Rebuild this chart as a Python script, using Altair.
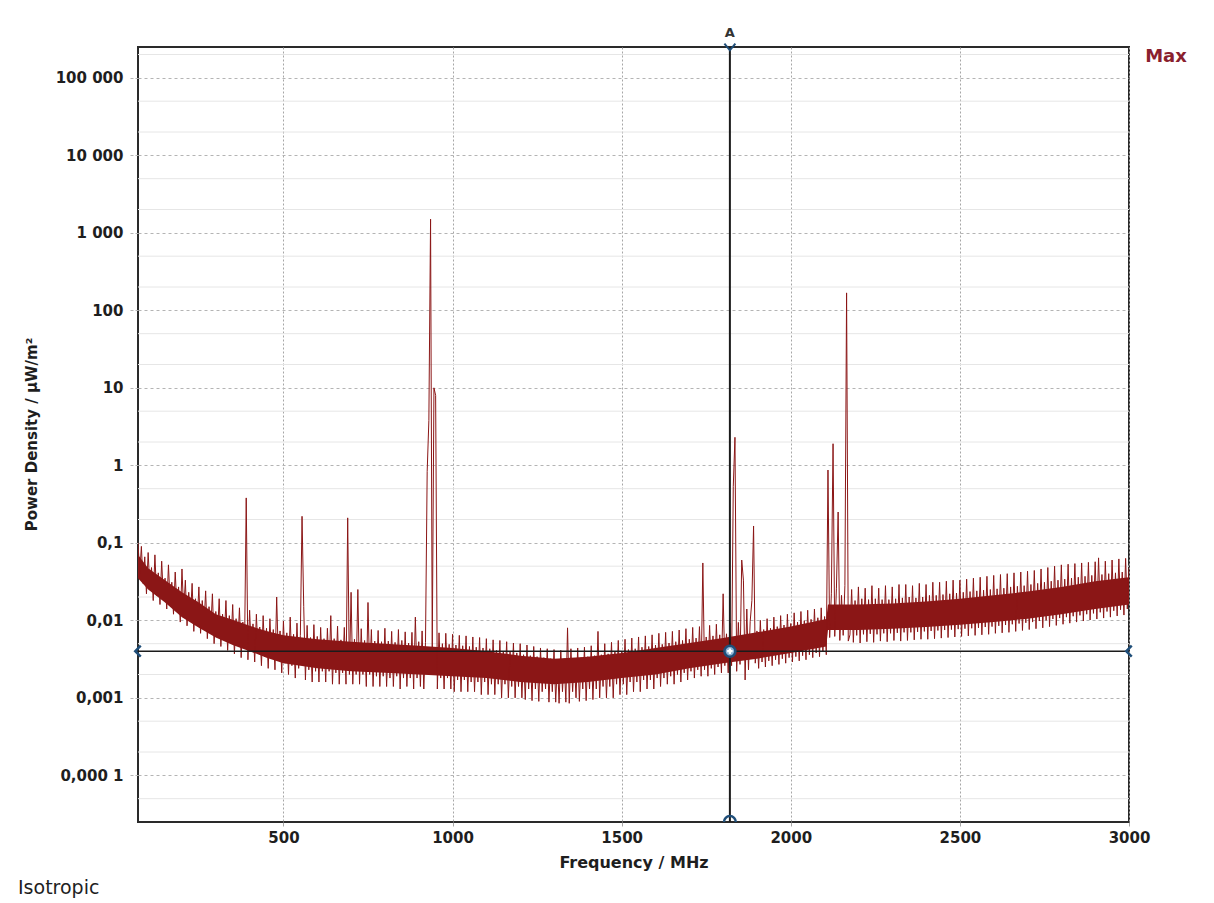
import altair as alt
import pandas as pd

# ---------------- data ----------------
FREQ_START_MHZ = 70
FREQ_STEP_MHZ = 5

# Max-hold power density, µW/m², one value per 5 MHz sweep step (70 ... 3000 MHz)
power_density = [
    0.1, 0.04, 0.09, 0.03, 0.066, 0.022, 0.075, 0.027, 0.048, 0.018, 0.07,            # 70-120
    0.021, 0.041, 0.016, 0.058, 0.02, 0.035, 0.014, 0.052, 0.017, 0.031,              # 125-170
    0.012, 0.042, 0.015, 0.027, 0.0095, 0.046, 0.013, 0.033, 0.0085, 0.023,           # 175-220
    0.011, 0.03, 0.0072, 0.019, 0.0095, 0.027, 0.0068, 0.018, 0.0085, 0.024,          # 225-270
    0.0058, 0.015, 0.0075, 0.022, 0.005, 0.013, 0.0064, 0.019, 0.0046, 0.012,         # 275-320
    0.0058, 0.018, 0.0041, 0.0115, 0.0052, 0.016, 0.0037, 0.0105, 0.0047, 0.0145,     # 325-370
    0.0033, 0.0095, 0.0044, 0.38, 0.0031, 0.0135, 0.004, 0.009, 0.0029, 0.012,        # 375-420
    0.0037, 0.0082, 0.0026, 0.0115, 0.0034, 0.0079, 0.0024, 0.0105, 0.0032, 0.0076,   # 425-470
    0.0023, 0.02, 0.0031, 0.0073, 0.0021, 0.0098, 0.0028, 0.0069, 0.002, 0.011,       # 475-520
    0.0026, 0.0066, 0.0018, 0.0092, 0.0024, 0.0064, 0.22, 0.015, 0.0017, 0.0086,      # 525-570
    0.0023, 0.006, 0.0016, 0.0088, 0.0022, 0.0062, 0.0016, 0.0081, 0.0022, 0.0058,    # 575-620
    0.0016, 0.0079, 0.0022, 0.0115, 0.0015, 0.0058, 0.0021, 0.0084, 0.0015, 0.0056,   # 625-670
    0.0021, 0.0081, 0.0015, 0.21, 0.002, 0.023, 0.0015, 0.0057, 0.002, 0.025,         # 675-720
    0.0015, 0.0078, 0.002, 0.0055, 0.0014, 0.017, 0.002, 0.0076, 0.0014, 0.0054,      # 725-770
    0.0019, 0.0074, 0.0014, 0.0053, 0.0019, 0.0079, 0.0014, 0.0054, 0.0018, 0.0072,   # 775-820
    0.0014, 0.0052, 0.0019, 0.0076, 0.0013, 0.0055, 0.0018, 0.0071, 0.0014, 0.0051,   # 825-870
    0.0018, 0.007, 0.0013, 0.011, 0.0018, 0.0053, 0.0014, 0.0073, 0.0013, 0.0052,     # 875-920
    0.83, 3.8, 1500, 0.0045, 10, 8, 0.0013, 0.0069, 0.0018, 0.005,                    # 925-970
    0.0013, 0.0068, 0.0018, 0.0049, 0.0013, 0.0066, 0.0012, 0.0048, 0.0017, 0.0064,   # 975-1020
    0.0012, 0.0047, 0.0017, 0.0063, 0.0012, 0.0046, 0.0016, 0.0061, 0.0012, 0.0045,   # 1025-1070
    0.0016, 0.006, 0.0011, 0.0044, 0.0016, 0.0058, 0.0011, 0.0043, 0.0015, 0.0056,    # 1075-1120
    0.0011, 0.0041, 0.0015, 0.0055, 0.001, 0.004, 0.0015, 0.0053, 0.001, 0.0039,      # 1125-1170
    0.0014, 0.0051, 0.001, 0.0038, 0.0014, 0.005, 0.001, 0.0036, 0.00095, 0.0048,     # 1175-1220
    0.0013, 0.0035, 0.00092, 0.0046, 0.0013, 0.0034, 0.0009, 0.0044, 0.0012, 0.0033,  # 1225-1270
    0.0013, 0.0043, 0.00088, 0.0032, 0.0012, 0.0042, 0.00088, 0.0031, 0.00085, 0.0041,  # 1275-1320
    0.0012, 0.0032, 0.00088, 0.008, 0.00085, 0.0043, 0.0012, 0.0032, 0.001, 0.0044,   # 1325-1370
    0.0009, 0.0033, 0.0013, 0.0045, 0.00092, 0.0034, 0.0013, 0.0047, 0.00095, 0.0035,  # 1375-1420
    0.0013, 0.0072, 0.001, 0.0036, 0.0014, 0.005, 0.001, 0.0037, 0.0014, 0.0052,      # 1425-1470
    0.001, 0.0039, 0.0015, 0.0055, 0.0011, 0.004, 0.0015, 0.0057, 0.0011, 0.0042,     # 1475-1520
    0.0016, 0.0059, 0.0012, 0.0043, 0.0016, 0.0061, 0.0012, 0.0045, 0.0017, 0.0063,   # 1525-1570
    0.0013, 0.0046, 0.0017, 0.0065, 0.0013, 0.0048, 0.0018, 0.0068, 0.0014, 0.0049,   # 1575-1620
    0.0018, 0.007, 0.0015, 0.0051, 0.0019, 0.0072, 0.0015, 0.0053, 0.002, 0.0075,     # 1625-1670
    0.0016, 0.0055, 0.0021, 0.0078, 0.0017, 0.0057, 0.0022, 0.0081, 0.0018, 0.0059,   # 1675-1720
    0.0023, 0.0083, 0.0019, 0.055, 0.0023, 0.0061, 0.0019, 0.0086, 0.0024, 0.0063,    # 1725-1770
    0.002, 0.0089, 0.0025, 0.0065, 0.0021, 0.022, 0.0026, 0.0067, 0.0021, 0.0092,     # 1775-1820
    0.0026, 0.53, 2.3, 0.0022, 0.0094, 0.0027, 0.06, 0.033, 0.0017, 0.014,            # 1825-1870
    0.0023, 0.0097, 0.018, 0.165, 0.0028, 0.0073, 0.0024, 0.01, 0.0029, 0.0076,       # 1875-1920
    0.0025, 0.0105, 0.003, 0.0079, 0.0026, 0.011, 0.0031, 0.0083, 0.0027, 0.0115,     # 1925-1970
    0.0032, 0.0087, 0.0028, 0.012, 0.0033, 0.0091, 0.0029, 0.0125, 0.0034, 0.0095,    # 1975-2020
    0.003, 0.013, 0.0035, 0.0099, 0.0031, 0.0135, 0.0036, 0.0103, 0.0033, 0.014,      # 2025-2070
    0.0038, 0.0108, 0.0034, 0.0145, 0.004, 0.0112, 0.0036, 0.87, 0.006, 0.022,        # 2075-2120
    1.9, 0.0062, 0.026, 0.25, 0.0055, 0.021, 0.0064, 0.028, 168, 0.0054,              # 2125-2170
    0.0065, 0.025, 0.0052, 0.018, 0.0064, 0.027, 0.0051, 0.019, 0.0066, 0.026,        # 2175-2220
    0.0053, 0.0185, 0.0067, 0.028, 0.0052, 0.019, 0.0066, 0.026, 0.0054, 0.0185,      # 2225-2270
    0.0068, 0.028, 0.0053, 0.0185, 0.0068, 0.027, 0.0055, 0.019, 0.0069, 0.029,       # 2275-2320
    0.0054, 0.0195, 0.007, 0.029, 0.0055, 0.02, 0.007, 0.028, 0.0056, 0.0195,         # 2325-2370
    0.0071, 0.03, 0.0057, 0.02, 0.0072, 0.029, 0.0057, 0.021, 0.0073, 0.031,          # 2375-2420
    0.0058, 0.021, 0.0074, 0.031, 0.0059, 0.0215, 0.0075, 0.032, 0.006, 0.022,        # 2425-2470
    0.0076, 0.033, 0.0061, 0.0225, 0.0077, 0.033, 0.0062, 0.023, 0.0078, 0.034,       # 2475-2520
    0.0063, 0.0235, 0.0079, 0.035, 0.0064, 0.024, 0.008, 0.036, 0.0065, 0.0245,       # 2525-2570
    0.0082, 0.037, 0.0066, 0.025, 0.0083, 0.038, 0.0068, 0.0255, 0.0085, 0.039,       # 2575-2620
    0.0069, 0.026, 0.0087, 0.04, 0.007, 0.027, 0.0089, 0.041, 0.0072, 0.0275,         # 2625-2670
    0.0091, 0.042, 0.0074, 0.028, 0.0093, 0.043, 0.0076, 0.029, 0.0095, 0.044,        # 2675-2720
    0.0078, 0.03, 0.0098, 0.046, 0.008, 0.031, 0.01, 0.048, 0.0083, 0.032,            # 2725-2770
    0.0104, 0.05, 0.0086, 0.033, 0.0107, 0.052, 0.0089, 0.034, 0.011, 0.053,          # 2775-2820
    0.0092, 0.035, 0.0113, 0.054, 0.0095, 0.036, 0.0116, 0.055, 0.0098, 0.037,        # 2825-2870
    0.012, 0.056, 0.0101, 0.038, 0.0123, 0.057, 0.0104, 0.064, 0.0127, 0.039,         # 2875-2920
    0.0107, 0.058, 0.013, 0.04, 0.011, 0.06, 0.0133, 0.041, 0.0114, 0.062,            # 2925-2970
    0.0137, 0.042, 0.0117, 0.063, 0.014, 0.048,                                       # 2975-3000
]
frequency = [FREQ_START_MHZ + FREQ_STEP_MHZ * i for i in range(len(power_density))]
assert frequency[-1] == 3000, frequency[-1]

# Solid core of the noise band (where the trace is densest), µW/m²
core_freq = [70, 100, 150, 200, 250, 300, 350, 400, 450, 500, 600, 700, 800, 900,
             1000, 1100, 1200, 1300, 1400, 1500, 1600, 1700, 1800, 1900, 2000, 2105,
             2110, 2200, 2300, 2400, 2500, 2600, 2700, 2800, 2900, 3000]
core_low = [0.035, 0.025, 0.017, 0.011, 0.008, 0.006, 0.0048, 0.004, 0.0033, 0.0028,
            0.0024, 0.0022, 0.0021, 0.002, 0.0019, 0.0018, 0.0016, 0.0015, 0.0016,
            0.0018, 0.002, 0.0024, 0.0028, 0.0032, 0.0038, 0.0046, 0.0075, 0.0075,
            0.0078, 0.0082, 0.0088, 0.0095, 0.0105, 0.012, 0.014, 0.016]
core_high = [0.07, 0.047, 0.033, 0.023, 0.017, 0.012, 0.0102, 0.0085, 0.0073, 0.0064,
             0.0057, 0.0053, 0.005, 0.0047, 0.0044, 0.004, 0.0035, 0.0032, 0.0034,
             0.0038, 0.0044, 0.0051, 0.0059, 0.007, 0.0083, 0.0104, 0.016, 0.016,
             0.0165, 0.0175, 0.019, 0.021, 0.0235, 0.027, 0.032, 0.036]

x_domain = [70, 3000]
y_domain = [2.5e-5, 2.5e5]
x_tick_values = [500, 1000, 1500, 2000, 2500, 3000]
y_tick_values = [1e5, 1e4, 1e3, 100, 10, 1, 0.1, 0.01, 0.001, 0.0001]
y_tick_labels = ["100 000", "10 000", "1 000", "100", "10", "1",
                 "0,1", "0,01", "0,001", "0,000 1"]
minor_grid = [m * 10.0 ** e for e in range(-5, 6) for m in (2, 5)
              if y_domain[0] < m * 10.0 ** e < y_domain[1]]

cursor_freq = [1820]        # marker "A"
cursor_level = [0.004]      # horizontal reference line

# ---------------- styling ----------------
W, H = 991, 775
FONT = "DejaVu Sans"
TRACE = "#8b1616"
CURSOR = "#1b1b1b"
MARK_BLUE = "#1f4e79"
TEXT = "#1e1e1e"

trace = pd.DataFrame({"freq": frequency, "pd": power_density})
core = pd.DataFrame({"freq": core_freq, "pd": core_low, "pd_hi": core_high})
cursor = pd.DataFrame({"freq": cursor_freq, "pd": cursor_level})
edges = pd.DataFrame({"freq": x_domain, "pd": cursor_level * 2})
ends = pd.DataFrame({"freq": cursor_freq * 2, "pd": [y_domain[1], y_domain[0]]})
minor = pd.DataFrame({"pd": minor_grid})

label_expr = "".join(
    f"datum.value == {v!r} ? '{l}' : " for v, l in zip(y_tick_values, y_tick_labels)
) + "''"

x_axis = alt.Axis(
    values=x_tick_values, format="d", title="Frequency / MHz",
    grid=True, gridColor="#a6a6a6", gridDash=[2, 2], gridWidth=1,
    domain=False, tickSize=4, tickColor="#a6a6a6",
    labelFont=FONT, labelFontSize=15, labelFontWeight="bold", labelColor=TEXT,
    labelPadding=4, labelFlush=False, labelOverlap=False,
    titleFont=FONT, titleFontSize=16, titleFontWeight="bold", titleColor=TEXT,
    titleY=40, titleBaseline="middle",
)
y_axis = alt.Axis(
    values=y_tick_values, labelExpr=label_expr, title="Power Density / µW/m²",
    grid=True, gridColor="#b4b4b4", gridDash=[3, 3], gridWidth=1,
    domain=False, tickSize=8, tickColor="#b4b4b4", tickDash=[3, 2],
    labelFont=FONT, labelFontSize=15, labelFontWeight="bold", labelColor=TEXT,
    labelPadding=7, labelFlush=False, labelOverlap=False,
    titleFont=FONT, titleFontSize=15, titleFontWeight="bold", titleColor=TEXT,
    titleAngle=270, titleX=-107, titleY=387, titleAlign="center", titleBaseline="middle",
)

x_enc = alt.X("freq:Q", scale=alt.Scale(domain=x_domain, nice=False, zero=False), axis=x_axis)
y_enc = alt.Y("pd:Q", scale=alt.Scale(type="log", domain=y_domain, nice=False), axis=y_axis)

minor_rules = alt.Chart(minor).mark_rule(color="#e6e6e6", strokeWidth=1).encode(y=y_enc)

core_area = alt.Chart(core).mark_area(color=TRACE, opacity=1, clip=True).encode(
    x=x_enc, y=y_enc, y2="pd_hi:Q"
)
line = alt.Chart(trace).mark_line(color=TRACE, strokeWidth=1, clip=True).encode(x=x_enc, y=y_enc)

h_rule = alt.Chart(cursor).mark_rule(color=CURSOR, strokeWidth=1.5).encode(y=y_enc)
v_rule = alt.Chart(cursor).mark_rule(color=CURSOR, strokeWidth=2).encode(x=x_enc)

edge_marks = alt.Chart(edges).mark_point(
    shape="M 0.5 -1 L -0.5 0 L 0.5 1", filled=False, stroke=MARK_BLUE,
    strokeWidth=2.5, size=120, clip=False, opacity=1,
).encode(x=x_enc, y=y_enc)

top_mark = alt.Chart(ends.iloc[:1]).mark_point(
    shape="M -1 -0.6 L 0 0.6 L 1 -0.6", filled=False, stroke=MARK_BLUE,
    strokeWidth=2, size=120, clip=False, opacity=1,
).encode(x=x_enc, y=y_enc)
bottom_mark = alt.Chart(ends.iloc[1:]).mark_point(
    shape="M -1 0 A 1 1 0 0 1 1 0", filled=False, stroke=MARK_BLUE,
    strokeWidth=2.5, size=140, clip=False, opacity=1,
).encode(x=x_enc, y=y_enc)

cross_circle = alt.Chart(cursor).mark_point(
    shape="circle", filled=True, fill="#8fb3d6", stroke=MARK_BLUE,
    strokeWidth=2.5, size=120, opacity=1,
).encode(x=x_enc, y=y_enc)
cross_plus = alt.Chart(cursor).mark_point(
    shape="cross", filled=True, fill="#ffffff", size=30, opacity=1,
).encode(x=x_enc, y=y_enc)

label_a = alt.Chart(cursor).mark_text(
    text="A", font=FONT, fontSize=13, fontWeight="bold", color="#333333",
    baseline="middle", align="center",
).encode(x=x_enc, y=alt.value(-14))

label_max = alt.Chart(cursor).mark_text(
    text="Max", font=FONT, fontSize=18, fontWeight="bold", color="#8a1f2e",
    baseline="middle", align="center",
).encode(x=alt.value(W + 37), y=alt.value(10))

label_iso = alt.Chart(cursor).mark_text(
    text="Isotropic", font=FONT, fontSize=19, color=TEXT,
    baseline="middle", align="left",
).encode(x=alt.value(-120), y=alt.value(841))

chart = alt.layer(
    minor_rules, core_area, line, h_rule, v_rule, edge_marks, top_mark, bottom_mark,
    cross_circle, cross_plus, label_a, label_max, label_iso,
).properties(
    width=W, height=H,
    autosize=alt.AutoSizeParams(type="none"),
    padding={"left": 138, "top": 47, "right": 85, "bottom": 81},
    background="white",
).configure_view(stroke="#2a2a2a", strokeWidth=2)

chart.save("out.html", embed_options={"renderer": "svg", "actions": False})
